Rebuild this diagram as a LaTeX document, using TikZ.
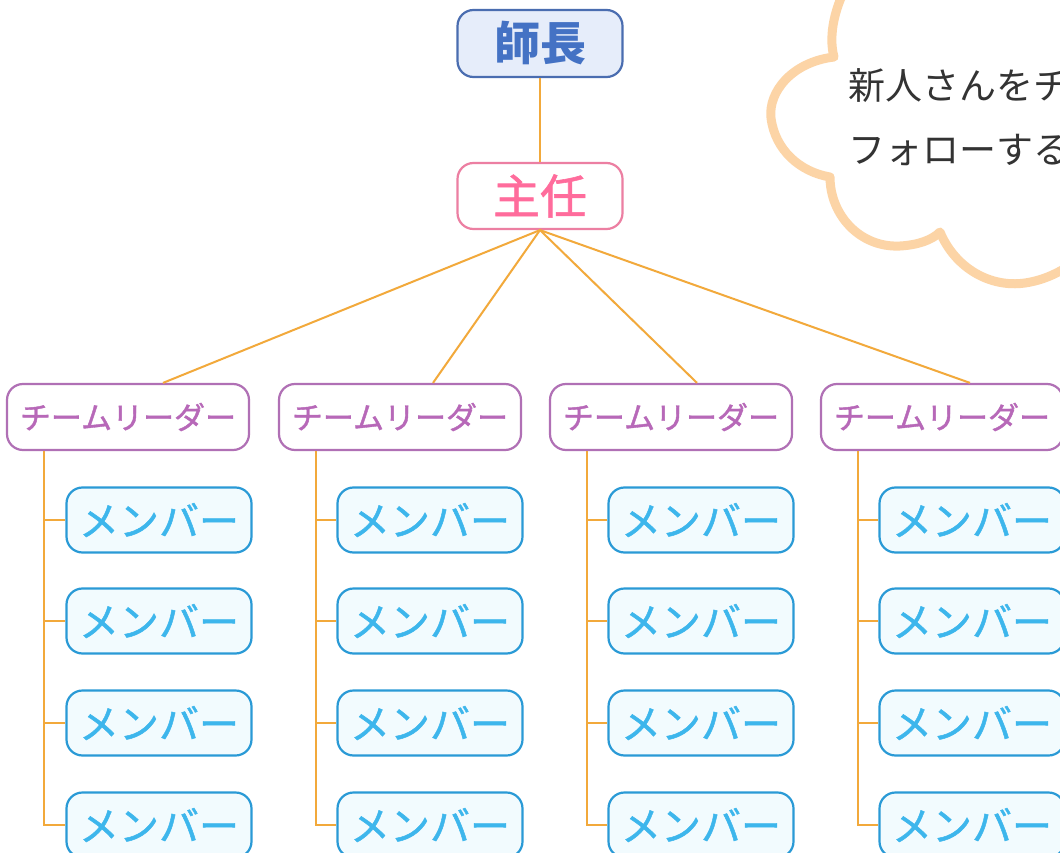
\documentclass[tikz,border=0pt]{standalone}
\usepackage{fontspec}
\newfontfamily\jp{Noto Sans CJK JP}
\newfontfamily\jpm[FakeBold=1.2]{Noto Sans CJK JP}
\definecolor{chiefFill}{HTML}{E6EDFA}
\definecolor{chiefLine}{HTML}{4A6DB0}
\definecolor{chiefText}{HTML}{4472C4}
\definecolor{subLine}{HTML}{EC7FA2}
\definecolor{subText}{HTML}{FF6C9C}
\definecolor{leadLine}{HTML}{B070B5}
\definecolor{leadText}{HTML}{B768B8}
\definecolor{memFill}{HTML}{F2FBFE}
\definecolor{memLine}{HTML}{2A9AD6}
\definecolor{memText}{HTML}{3DB6EC}
\definecolor{connC}{HTML}{F2A93B}
\definecolor{cloudC}{HTML}{FCD4A6}
\definecolor{cloudText}{HTML}{333333}
\tikzset{
  box/.style={rounded corners=16pt, line width=2.2pt, inner sep=0pt, align=center},
  chief/.style={box, fill=chiefFill, draw=chiefLine, text=chiefText, minimum width=165pt, minimum height=67pt, font=\jp\bfseries\fontsize{46}{46}\selectfont},
  sub/.style={box, fill=white, draw=subLine, text=subText, minimum width=165pt, minimum height=66pt, font=\jpm\fontsize{47}{47}\selectfont},
  leader/.style={box, fill=white, draw=leadLine, text=leadText, minimum width=242pt, minimum height=66pt, font=\jpm\fontsize{31}{31}\selectfont},
  member/.style={box, fill=memFill, draw=memLine, text=memText, minimum width=185pt, minimum height=65pt, font=\jpm\fontsize{40}{40}\selectfont},
  conn/.style={draw=connC, line width=2pt},
  cloudtext/.style={anchor=west, inner sep=0pt, text=cloudText, font=\jp\fontsize{37}{37}\selectfont}
}
\begin{document}
\begin{tikzpicture}[x=1pt,y=-1pt]
\useasboundingbox (0,0) rectangle (1060,853);
\clip (0,0) rectangle (1060,853);
\fill[white] (0,0) rectangle (1060,853);
% cloud
\draw[cloudC, line width=9pt, fill=white, line join=round]
  (850,-20) .. controls (835,5) and (828,35) .. (834,57)
  .. controls (792,62) and (768,92) .. (771,118)
  .. controls (775,150) and (800,172) .. (830,177)
  .. controls (830,215) and (860,248) .. (900,246)
  .. controls (918,245) and (932,240) .. (940,232)
  .. controls (955,268) and (990,288) .. (1025,283)
  .. controls (1045,280) and (1060,272) .. (1075,262)
  -- (1075,-20) -- cycle;
\node[cloudtext] (c1) at (848,86) {新人さんをチーム};
\node[cloudtext] (c2) at (848,150) {フォローする};
% hierarchy
\node[chief] (C) at (540,43.5) {師長};
\node[sub] (S) at (540,196) {主任};
\draw[conn] (C.south) -- (S.north);
\foreach \i/\lx/\mx/\tx in {1/128/159/35, 2/400/430/33, 3/671/701/26, 4/942/972/28} {
  \node[leader] (L\i) at (\lx,417) {チームリーダー};
  \draw[conn] (S.south) -- ([xshift=\tx pt]L\i.north);
  \foreach \j/\my in {1/520,2/621,3/723,4/825} {
    \node[member] (M\i\j) at (\mx,\my) {メンバー};
  }
  \coordinate (V\i) at ([xshift=38pt]L\i.south west);
  \draw[conn] (V\i) |- (M\i4.west);
  \foreach \j in {1,2,3} {\draw[conn] (V\i |- M\i\j.west) -- (M\i\j.west);}
}
\end{tikzpicture}
\end{document}
